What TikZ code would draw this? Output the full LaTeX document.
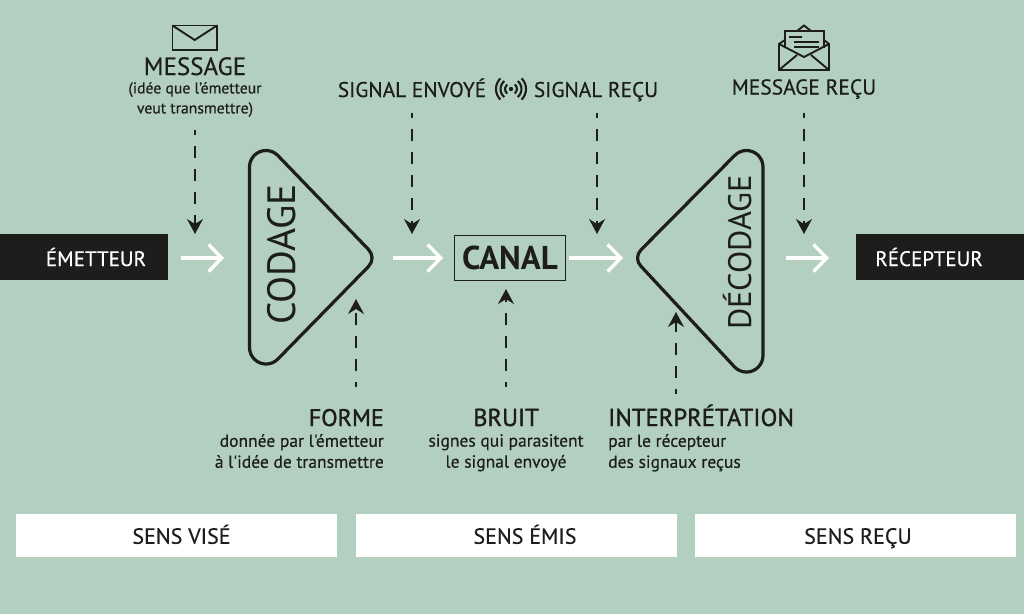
\documentclass[tikz,border=0pt]{standalone}
\usepackage{fontspec}
\setmainfont{PT Sans}
\newfontfamily\din{PT Sans}[FakeBold=0.35]
\newfontfamily\dinb{PT Sans}[FakeBold=1.3]
\usetikzlibrary{arrows.meta}
\definecolor{bgc}{HTML}{B2CFBF}
\definecolor{ink}{HTML}{1D1D1B}
\tikzset{
  lab/.style={text=ink,inner sep=0pt,anchor=base,font=\din\fontsize{#1}{#1}\selectfont},
  labb/.style={text=ink,inner sep=0pt,anchor=base,font=\dinb\fontsize{#1}{#1}\selectfont},
  sub/.style={text=ink,inner sep=0pt,align=center,font=\din\fontsize{#1}{21}\selectfont},
  blackbox/.style={fill=ink,text=white,inner sep=0pt,minimum width=168pt,minimum height=46pt,font=\din\fontsize{21}{21}\selectfont},
  whitebox/.style={fill=white,text=ink,inner sep=0pt,minimum width=321pt,minimum height=43pt,text height=16.5pt,text depth=0pt,font=\din\fontsize{22}{22}\selectfont},
  flow/.style={white,line width=3.4pt,-{Straight Barb[length=13pt,width=27pt,line width=3.4pt]}},
  note/.style={ink,line width=1.6pt,dash pattern=on 12pt off 11pt,dash phase=7pt,-{Stealth[length=15pt,width=16pt,inset=5pt]}},
  tri/.style={ink,line width=3.2pt,line join=round},
  icon/.style={ink,line width=1.9pt,line join=miter}
}
\begin{document}
\begin{tikzpicture}[x=1pt,y=-1pt]
\useasboundingbox (0,0) rectangle (1024,614);
\fill[bgc] (0,0) rectangle (1024,614);
% boxes
\node[blackbox] (emet) at (84,257) {\hspace*{24pt}ÉMETTEUR};
\node[blackbox] (recep) at (940,257) {RÉCEPTEUR\hspace*{22pt}};
\node[draw=ink,line width=1.6pt,minimum width=111pt,minimum height=45pt,text=ink,inner sep=0pt,font=\bfseries\fontsize{33}{33}\selectfont] (canal) at (510,258) {CANAL};
\node[whitebox] (vise) at (176.5,535.5) {\hspace*{10pt}SENS VISÉ};
\node[whitebox] (emis) at (516,535.5) {\hspace*{18pt}SENS ÉMIS};
\node[whitebox] (recu) at (855,535.5) {\hspace*{6pt}SENS REÇU};
% triangles
\draw[tri] (249.5,167) arc[start angle=180,end angle=45,radius=16.5pt] -- (368.5,249.5) arc[start angle=45,end angle=-45,radius=12pt] -- (277.7,359.2) arc[start angle=-45,end angle=-180,radius=16.5pt] -- cycle;
\node[rotate=90,anchor=base,text=ink,inner sep=0pt,font=\fontsize{39.5}{39.5}\selectfont] (codage) at (295,254.5) {CODAGE};
\draw[tri] (763,167) arc[start angle=0,end angle=135,radius=16.5pt] -- (640.9,249.9) arc[start angle=135,end angle=225,radius=11.5pt] -- (734.8,367.2) arc[start angle=225,end angle=360,radius=16.5pt] -- cycle;
\node[rotate=90,anchor=base,text=ink,inner sep=0pt,font=\fontsize{32.5}{32.5}\selectfont] (decod) at (751,252.5) {DÉCODAGE};
% flow arrows
\coordinate (f1a) at (181,258); \coordinate (f1b) at (224,258);
\coordinate (f2a) at (393,258); \coordinate (f2b) at (443,258);
\coordinate (f3a) at (569,258); \coordinate (f3b) at (623,258);
\coordinate (f4a) at (786,258); \coordinate (f4b) at (829,258);
\draw[flow] (f1a) -- (f1b);
\draw[flow] (f2a) -- (f2b);
\draw[flow] (f3a) -- (f3b);
\draw[flow] (f4a) -- (f4b);
% top labels
\node[lab=25] (message) at (195,75) {MESSAGE};
\node[sub=15.7,font=\din\fontsize{15.7}{20}\selectfont] (messub) at (195,99.5) {(idée que l’émetteur\\veut transmettre)};
\node[lab=21.3] (senv) at (412,97) {SIGNAL ENVOYÉ};
\node[lab=21.3] (srec) at (596,97) {SIGNAL REÇU};
\node[lab=21.5] (mrec) at (804,94.5) {MESSAGE REÇU};
% bottom labels
\node[labb=24,anchor=base east] (forme) at (384,426) {FORME};
\node[sub=17.5,align=right,anchor=north east] (formesub) at (384,434) {donnée par l'émetteur\\à l'idée de transmettre};
\node[labb=24.5] (bruit) at (506,426) {BRUIT};
\node[sub=17.5,anchor=north] (bruitsub) at (506,434) {signes qui parasitent\\le signal envoyé};
\node[labb=24.6,anchor=base west] (interp) at (608,426) {INTERPRÉTATION};
\node[sub=17.5,align=left,anchor=north west] (interpsub) at (608,434) {par le récepteur\\des signaux reçus};
% dashed arrows
\coordinate (d1a) at (195,130); \coordinate (d1b) at (195,234);
\coordinate (d2a) at (412,113); \coordinate (d2b) at (412,234);
\coordinate (d3a) at (597,113); \coordinate (d3b) at (597,234);
\coordinate (d4a) at (804,113); \coordinate (d4b) at (804,234);
\coordinate (d5a) at (356,387); \coordinate (d5b) at (356,299);
\coordinate (d6a) at (506,387); \coordinate (d6b) at (506,289);
\coordinate (d7a) at (676,394); \coordinate (d7b) at (676,312);
\draw[note] (d1a) -- (d1b);
\draw[note] (d2a) -- (d2b);
\draw[note] (d3a) -- (d3b);
\draw[note] (d4a) -- (d4b);
\draw[note] (d5a) -- (d5b);
\draw[note] (d6a) -- (d6b);
\draw[note] (d7a) -- (d7b);
% envelope icon
\draw[icon] (172.5,25.5) rectangle (217,50);
\draw[icon] (172.5,25.5) -- (194.7,40) -- (217,25.5);
% open envelope icon
\draw[icon] (785,40) -- (779,44) -- (779,70) -- (829,70) -- (829,44) -- (824,40);
\draw[icon] (779,44) -- (804,57) -- (829,44);
\draw[icon] (779,70) -- (797,55);
\draw[icon] (829,70) -- (811,55);
\draw[icon] (785,48) -- (785,31) -- (824,31) -- (824,48);
\draw[icon] (797,31) -- (804,25.5) -- (811,31);
\draw[ink,line width=1.5pt] (789,37) -- (802,37) (794,42) -- (819,42) (794,47) -- (819,47);
% signal icon
\fill[ink] (511,89) circle (2.2pt);
\foreach \r/\a in {6/50,10.5/50,15/45}{
  \draw[ink,line width=2.1pt] (511,89) ++(-\a:\r) arc[start angle=-\a,end angle=\a,radius=\r];
  \draw[ink,line width=2.1pt] (511,89) ++(180-\a:\r) arc[start angle=180-\a,end angle=180+\a,radius=\r];
}
\end{tikzpicture}
\end{document}
